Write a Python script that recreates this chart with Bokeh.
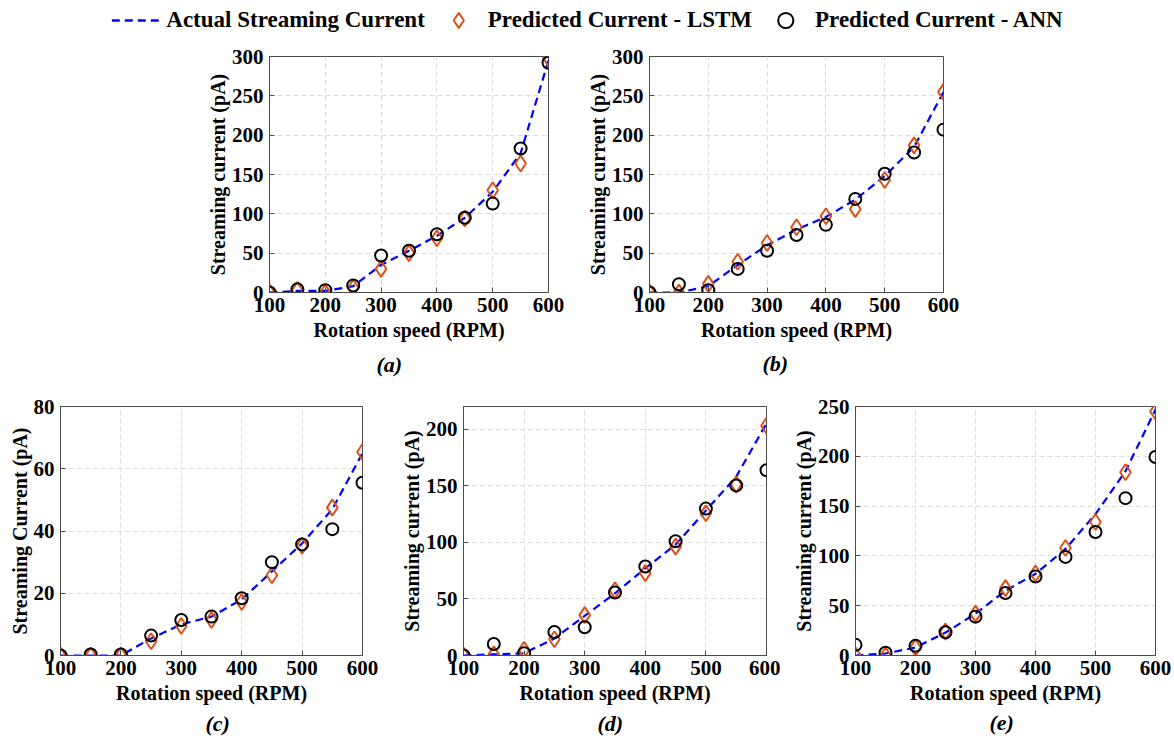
from bokeh.plotting import figure
from bokeh.layouts import column, row
from bokeh.models import Spacer, Title, Legend, LegendItem, Range1d, FixedTicker
from bokeh.embed import file_html
from bokeh.resources import INLINE

speed = [100, 150, 200, 250, 300, 350, 400, 450, 500, 550, 600]

a_actual = [0, 2, 2, 8, 35, 53, 72, 95, 128, 177, 295]
a_lstm = [0, 3, 0, 6, 30, 50, 69, 94, 130, 164, 298]
a_ann = [0, 4, 3, 9, 47, 53, 74, 95, 113, 183, 292]

b_actual = [0, 0, 8, 35, 60, 80, 96, 118, 148, 185, 255]
b_lstm = [0, 0, 11, 39, 63, 83, 97, 106, 143, 187, 255]
b_ann = [0, 10.5, 3, 30, 53, 73, 86, 119, 151, 178, 207]

c_actual = [0, 0, 0, 5.5, 10, 12.5, 18, 27, 36, 47, 65]
c_lstm = [0, 0, 0, 4.6, 9.5, 11.4, 17.2, 25.8, 35.3, 47.5, 65.4]
c_ann = [0, 0.3, 0.3, 6.4, 11.4, 12.5, 18.4, 30, 35.7, 40.6, 55.5]

d_actual = [0, 1, 2, 15, 35, 55, 77, 98, 128, 158, 205]
d_lstm = [0, 1, 5, 14.3, 35.7, 57.6, 72.8, 96.2, 125.7, 151, 203]
d_ann = [0, 10.2, 2, 20.8, 24.9, 55.6, 78.7, 100.9, 129.8, 150.3, 163.7]

e_actual = [0, 2, 8, 23, 42, 65, 82, 107, 142, 185, 247]
e_lstm = [0, 0, 8, 24, 42, 67.7, 82.3, 108, 134, 184, 245]
e_ann = [10.7, 2.7, 9.7, 23.3, 39, 62.7, 79.3, 99, 124, 158, 199.3]

x_ticks = [100, 200, 300, 400, 500, 600]
series_names = ["Actual Streaming Current", "Predicted Current - LSTM", "Predicted Current - ANN"]

FONT = "Liberation Serif"
BLUE = "#0000FF"
ORANGE = "#D95319"
FRAME = "#4a4a4a"


def panel(actual, lstm, ann, ymax, yticks, ylabel, tag,
          bl, fw, br, bt, fh, bb, tag_dx, tag_standoff):
    p = figure(width=bl + fw + br, height=bt + fh + bb,
               x_range=Range1d(100, 600), y_range=Range1d(0, ymax),
               output_backend="svg", toolbar_location=None,
               min_border_left=bl, min_border_right=br,
               min_border_top=bt, min_border_bottom=bb)
    p.outline_line_color = FRAME
    p.outline_line_width = 1
    p.background_fill_color = "white"
    p.border_fill_color = "white"
    p.xaxis.ticker = FixedTicker(ticks=x_ticks)
    p.yaxis.ticker = FixedTicker(ticks=yticks)
    for ax in (p.xaxis, p.yaxis):
        ax.major_label_text_font = FONT
        ax.major_label_text_font_style = "bold"
        ax.major_label_text_font_size = "21px"
        ax.major_label_text_color = "black"
        ax.axis_label_text_font = FONT
        ax.axis_label_text_font_style = "bold"
        ax.axis_label_text_font_size = "20px"
        ax.axis_label_text_color = "black"
        ax.axis_line_color = FRAME
        ax.major_tick_line_color = FRAME
        ax.major_tick_in = 5
        ax.major_tick_out = 0
        ax.minor_tick_line_color = None
    p.xaxis.axis_label = "Rotation speed (RPM)"
    p.yaxis.axis_label = ylabel
    p.xaxis.major_label_standoff = 5
    p.xaxis.axis_label_standoff = 4
    p.yaxis.major_label_standoff = 6
    p.yaxis.axis_label_standoff = 0
    p.grid.grid_line_color = "#dcdcdc"
    p.grid.grid_line_dash = "5 3"
    p.grid.grid_line_width = 1

    p.line(speed, actual, line_color=BLUE, line_width=2.2, line_dash="8 5")
    p.scatter(speed, lstm, marker="diamond", size=16, fill_color=None,
              line_color=ORANGE, line_width=2)
    p.scatter(speed, ann, marker="circle", size=12, fill_color=None,
              line_color="black", line_width=2)

    p.add_layout(Title(text=tag, align="left", offset=tag_dx - 13,
                       standoff=tag_standoff, text_font=FONT,
                       text_font_style="bold italic", text_font_size="22px",
                       text_color="black"), "below")
    return p


fa = panel(a_actual, a_lstm, a_ann, 300, [0, 50, 100, 150, 200, 250, 300],
           "Streaming current (pA)", "(a)", 69, 279, 32, 15, 237, 98, 120, 13)
fb = panel(b_actual, b_lstm, b_ann, 300, [0, 50, 100, 150, 200, 250, 300],
           "Streaming current (pA)", "(b)", 69, 294, 31, 16, 238, 96, 126, 11)
fc = panel(c_actual, c_lstm, c_ann, 80, [0, 20, 40, 60, 80],
           "Streaming Current (pA)", "(c)", 60, 302, 28, 14, 251, 95, 158, 5)
fd = panel(d_actual, d_lstm, d_ann, 220, [0, 50, 100, 150, 200],
           "Streaming current (pA)", "(d)", 73, 303, 14, 15, 251, 94, 147, 4)
fe = panel(e_actual, e_lstm, e_ann, 250, [0, 50, 100, 150, 200, 250],
           "Streaming current (pA)", "(e)", 75, 300, 19, 16, 251, 93, 147, 3)

# legend strip
lg = figure(width=1174, height=40, x_range=Range1d(0, 1), y_range=Range1d(0, 1),
            output_backend="svg", toolbar_location=None,
            x_axis_location=None, y_axis_location=None,
            min_border=0, min_border_left=0, min_border_right=0,
            min_border_top=0, min_border_bottom=0)
lg.outline_line_color = None
lg.grid.visible = False
r1 = lg.line([-5, -4], [-5, -4], line_color=BLUE, line_width=2.5, line_dash="8 5")
r2 = lg.scatter([-5], [-5], marker="diamond", size=16, fill_color=None,
                line_color=ORANGE, line_width=2)
r3 = lg.scatter([-5], [-5], marker="circle", size=12, fill_color=None,
                line_color="black", line_width=2)
legend = Legend(items=[LegendItem(label=series_names[0], renderers=[r1]),
                       LegendItem(label=series_names[1], renderers=[r2]),
                       LegendItem(label=series_names[2], renderers=[r3])],
                orientation="horizontal", location="center",
                border_line_color=None, background_fill_alpha=0,
                label_text_font=FONT, label_text_font_style="bold",
                label_text_color="black",
                label_text_font_size="23px", glyph_width=50, glyph_height=38,
                label_standoff=5, spacing=8, padding=0, margin=0)
lg.add_layout(legend, "center")

layout = column(
    lg,
    row(Spacer(width=200, height=350), fa, fb),
    row(fc, fd, fe),
)

open("out.html", "w").write(file_html(layout, INLINE))
